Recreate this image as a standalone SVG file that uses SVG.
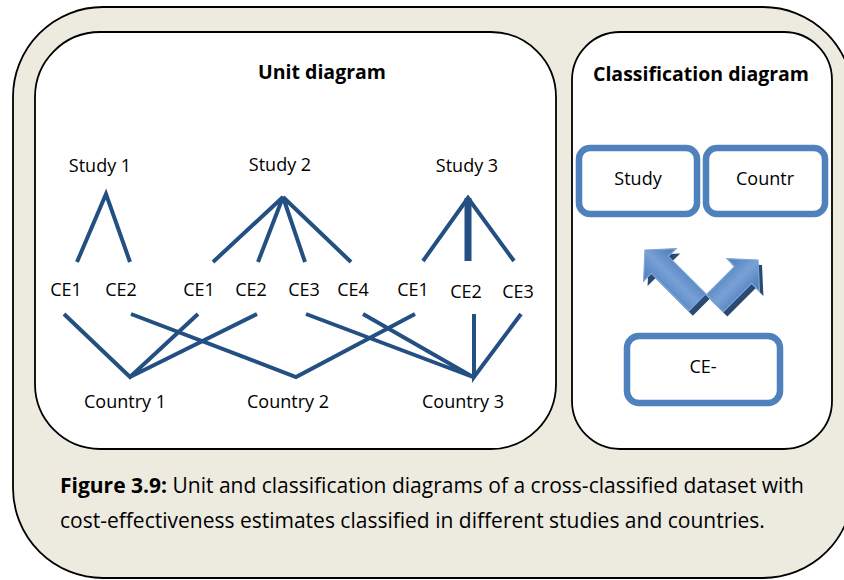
<svg xmlns="http://www.w3.org/2000/svg" width="844" height="580" viewBox="0 0 844 580">
<defs>
<style>
text{font-family:"Open Sans","Noto Sans","Liberation Sans",sans-serif;fill:#000}
.t{font-size:18px}
.h{font-size:19.5px;font-weight:bold}
.c{font-size:21px}
.lbl{text-anchor:middle}
.panel{fill:#fff;stroke:#000;stroke-width:1.8}
.edge{stroke:#234F83;stroke-width:4;fill:none;stroke-linecap:butt}
.cbox{fill:#fff;stroke:#4F81BD;stroke-width:6.5}
.arrow{fill:url(#ag);stroke:#7FA6DA;stroke-width:1.2}
.shadow{fill:#2A4A72}
</style>
<linearGradient id="ag" x1="0" y1="0" x2="1" y2="0">
<stop offset="0" stop-color="#4A7BBA"/>
<stop offset="0.5" stop-color="#78A1D6"/>
<stop offset="1" stop-color="#4676B4"/>
</linearGradient>
<polygon id="arrL" points="0,0 23,21 12,21 12,74 -12,74 -12,21 -23,21"/>
<polygon id="arrR" points="0,0 23,21 12,21 12,61 -12,61 -12,21 -23,21"/>
</defs>
<rect id="frame" x="13" y="7" width="840" height="571" rx="90" ry="90" fill="#EDEBE0" stroke="#000" stroke-width="1.8"/>
<g id="unit-panel">
<rect class="panel" x="35" y="32" width="521" height="417" rx="65" ry="65"/>
<text class="h lbl" x="322" y="79">Unit diagram</text>
</g>
<g id="class-panel">
<rect class="panel" x="572" y="32" width="260" height="417" rx="48" ry="48"/>
<text class="h lbl" x="701" y="81">Classification diagram</text>
</g>
<g id="connectors">
<path class="edge" d="M77,262 L106,194 L130,262"/>
<path class="edge" d="M213,262 L283,197 L258,262 M283,197 L305,262 M283,197 L351,262"/>
<path class="edge" d="M423,261 L468,198 L514,261"/>
<path class="edge" d="M468,198 L468,261" style="stroke-width:7"/>
<path class="edge" d="M64,314 L130,377 L198,314 M130,377 L257,314"/>
<path class="edge" d="M131,314 L296,377 L415,314"/>
<path class="edge" d="M306,314 L473,377 L363,314 M474,314 L474,377 L521,314"/>
</g>
<g id="study1"><text class="t lbl" x="100" y="172">Study 1</text></g>
<g id="study2"><text class="t lbl" x="280" y="171">Study 2</text></g>
<g id="study3"><text class="t lbl" x="467" y="172">Study 3</text></g>
<g id="s1-ce1"><text class="t lbl" x="66" y="296">CE1</text></g>
<g id="s1-ce2"><text class="t lbl" x="121" y="296">CE2</text></g>
<g id="s2-ce1"><text class="t lbl" x="199" y="296">CE1</text></g>
<g id="s2-ce2"><text class="t lbl" x="251" y="296">CE2</text></g>
<g id="s2-ce3"><text class="t lbl" x="304" y="296">CE3</text></g>
<g id="s2-ce4"><text class="t lbl" x="353" y="296">CE4</text></g>
<g id="s3-ce1"><text class="t lbl" x="413" y="296">CE1</text></g>
<g id="s3-ce2"><text class="t lbl" x="466" y="298">CE2</text></g>
<g id="s3-ce3"><text class="t lbl" x="518" y="298">CE3</text></g>
<g id="country1"><text class="t lbl" x="125" y="408">Country 1</text></g>
<g id="country2"><text class="t lbl" x="288" y="408">Country 2</text></g>
<g id="country3"><text class="t lbl" x="463" y="408">Country 3</text></g>
<g id="c-study">
<rect class="cbox" x="579" y="148" width="118" height="66" rx="11" ry="11"/>
<text class="t lbl" x="638" y="185">Study</text>
</g>
<g id="c-country">
<rect class="cbox" x="706" y="148" width="119" height="66" rx="11" ry="11"/>
<text class="t lbl" x="765" y="185">Countr</text>
</g>
<g id="c-ce">
<rect class="cbox" x="627" y="336" width="153" height="67" rx="12" ry="12"/>
<text class="t lbl" x="703" y="373">CE-</text>
</g>
<g id="arrows">
<use href="#arrL" class="shadow" transform="translate(649,255) rotate(-45)"/>
<use href="#arrL" class="arrow" transform="translate(645,250) rotate(-45)"/>
<use href="#arrR" class="shadow" transform="translate(762,265) rotate(45)"/>
<use href="#arrR" class="arrow" transform="translate(758,260) rotate(45)"/>
</g>
<g id="caption">
<text class="c" x="60" y="493"><tspan font-weight="bold">Figure 3.9:</tspan> Unit and classification diagrams of a cross-classified dataset with</text>
<text class="c" x="60" y="528">cost-effectiveness estimates classified in different studies and countries.</text>
</g>
</svg>
